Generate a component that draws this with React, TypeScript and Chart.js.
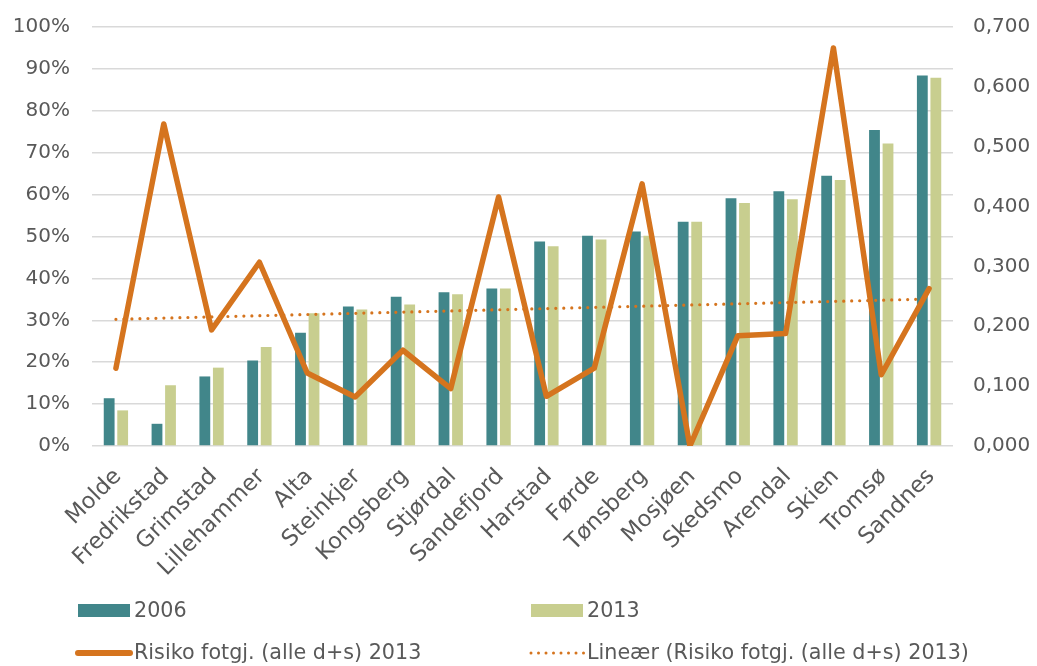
import React, { useEffect, useRef } from "react";
import { Chart, registerables } from "chart.js";

Chart.register(...registerables);

const categories = [
  "Molde", "Fredrikstad", "Grimstad", "Lillehammer", "Alta", "Steinkjer",
  "Kongsberg", "Stjørdal", "Sandefjord", "Harstad", "Førde", "Tønsberg",
  "Mosjøen", "Skedsmo", "Arendal", "Skien", "Tromsø", "Sandnes",
];

const share2006 = [
  0.114, 0.053, 0.166, 0.204, 0.270, 0.333, 0.356, 0.367, 0.376, 0.488,
  0.502, 0.512, 0.535, 0.591, 0.608, 0.645, 0.754, 0.884,
];

const share2013 = [
  0.085, 0.145, 0.187, 0.236, 0.317, 0.326, 0.338, 0.362, 0.376, 0.477,
  0.493, 0.502, 0.535, 0.580, 0.589, 0.635, 0.722, 0.879,
];

const risk2013 = [
  0.130, 0.538, 0.194, 0.307, 0.122, 0.082, 0.160, 0.096, 0.416, 0.083,
  0.130, 0.438, 0.000, 0.184, 0.188, 0.665, 0.119, 0.263,
];

const leftTicks = [0, 0.1, 0.2, 0.3, 0.4, 0.5, 0.6, 0.7, 0.8, 0.9, 1.0];
const rightTicks = [0, 0.1, 0.2, 0.3, 0.4, 0.5, 0.6, 0.7];

const legendLabels = {
  s2006: "2006",
  s2013: "2013",
  risk: "Risiko fotgj. (alle d+s) 2013",
  trend: "Lineær (Risiko fotgj. (alle d+s) 2013)",
};

const TEAL = "#41868A";
const GREEN = "#C8CE8F";
const ORANGE = "#D5741E";
const TEXT = "#595959";
const GRID = "#D9D9D9";
const FONT = "'DejaVu Sans', sans-serif";

// Linear trend (least squares) of the risk series, as Excel's trendline does
function linearTrend(values: number[]): number[] {
  const n = values.length;
  const xs = values.map((_, i) => i + 1);
  const mx = xs.reduce((a, b) => a + b, 0) / n;
  const my = values.reduce((a, b) => a + b, 0) / n;
  let sxy = 0;
  let sxx = 0;
  for (let i = 0; i < n; i++) {
    sxy += (xs[i] - mx) * (values[i] - my);
    sxx += (xs[i] - mx) * (xs[i] - mx);
  }
  const slope = sxy / sxx;
  return xs.map((x) => my + slope * (x - mx));
}

// Draws the category labels rotated 45°, their ends anchored just below each tick
const rotatedLabels = {
  id: "rotatedLabels",
  afterDraw(chart: any) {
    const xs = chart.scales.x;
    const ctx = chart.ctx;
    ctx.save();
    ctx.fillStyle = TEXT;
    ctx.font = "22.5px " + FONT;
    ctx.textAlign = "right";
    ctx.textBaseline = "middle";
    const labels = chart.data.labels as string[];
    labels.forEach((label, i) => {
      const x = xs.getPixelForTick(i);
      ctx.save();
      ctx.translate(x + 2, xs.top + 27);
      ctx.rotate(-Math.PI / 4);
      ctx.fillText(label, 0, 0);
      ctx.restore();
    });
    ctx.restore();
  },
};

export default function App() {
  const canvasRef = useRef<HTMLCanvasElement | null>(null);

  useEffect(() => {
    if (!canvasRef.current) return;
    const chart = new Chart(canvasRef.current, {
      type: "bar",
      data: {
        labels: categories,
        datasets: [
          {
            type: "line",
            label: legendLabels.trend,
            data: linearTrend(risk2013),
            yAxisID: "y1",
            borderColor: ORANGE,
            borderWidth: 3.2,
            borderDash: [0, 8],
            borderCapStyle: "round",
            pointRadius: 0,
            fill: false,
            order: 0,
          },
          {
            type: "line",
            label: legendLabels.risk,
            data: risk2013,
            yAxisID: "y1",
            borderColor: ORANGE,
            borderWidth: 5.5,
            borderJoinStyle: "round",
            borderCapStyle: "round",
            pointRadius: 0,
            tension: 0,
            fill: false,
            order: 1,
          },
          {
            type: "bar",
            label: legendLabels.s2006,
            data: share2006,
            yAxisID: "y",
            backgroundColor: TEAL,
            categoryPercentage: 0.565,
            barPercentage: 0.8,
            order: 2,
          },
          {
            type: "bar",
            label: legendLabels.s2013,
            data: share2013,
            yAxisID: "y",
            backgroundColor: GREEN,
            categoryPercentage: 0.565,
            barPercentage: 0.8,
            order: 2,
          },
        ],
      },
      options: {
        animation: false,
        responsive: false,
        maintainAspectRatio: false,
        layout: { padding: { top: 27, left: 0, right: 0, bottom: 0 } },
        plugins: {
          legend: { display: false },
          tooltip: { enabled: false },
        },
        scales: {
          x: {
            grid: { display: false, drawTicks: false },
            border: { display: false },
            ticks: { display: false, autoSkip: false },
            afterFit: (scale: any) => {
              scale.height = 220;
              scale.paddingLeft = 0;
              scale.paddingRight = 0;
            },
          },
          y: {
            position: "left",
            min: 0,
            max: 1,
            afterBuildTicks: (scale: any) => {
              scale.ticks = leftTicks.map((v) => ({ value: v }));
            },
            grid: { color: GRID, lineWidth: 1.5, drawTicks: false },
            border: { display: false },
            ticks: {
              color: TEXT,
              font: { family: FONT, size: 20 },
              padding: 22,
              callback: (v: any) => Math.round(Number(v) * 100) + "%",
            },
            afterFit: (scale: any) => {
              scale.width = 92;
              scale.paddingTop = 12;
              scale.paddingBottom = 12;
            },
          },
          y1: {
            position: "right",
            min: 0,
            max: 0.7,
            afterBuildTicks: (scale: any) => {
              scale.ticks = rightTicks.map((v) => ({ value: v }));
            },
            grid: { display: false, drawTicks: false },
            border: { display: false },
            ticks: {
              color: TEXT,
              font: { family: FONT, size: 20 },
              padding: 20,
              callback: (v: any) => Number(v).toFixed(3).replace(".", ","),
            },
            afterFit: (scale: any) => {
              scale.width = 84;
              scale.paddingTop = 12;
              scale.paddingBottom = 12;
            },
          },
        },
      },
      plugins: [rotatedLabels],
    });
    return () => chart.destroy();
  }, []);

  const textStyle: React.CSSProperties = {
    position: "absolute",
    fontFamily: FONT,
    fontSize: 20.7,
    color: TEXT,
    lineHeight: "24px",
    whiteSpace: "nowrap",
  };

  return (
    <div style={{ position: "absolute", left: 0, top: 0, width: 1037, height: 666, background: "#fff" }}>
      <canvas ref={canvasRef} width={1037} height={666} style={{ display: "block", width: 1037, height: 666 }} />
      {/* Legend */}
      <div style={{ position: "absolute", left: 78, top: 604, width: 52, height: 13, background: TEAL }} />
      <div style={{ ...textStyle, left: 134, top: 598 }}>{legendLabels.s2006}</div>
      <div style={{ position: "absolute", left: 531, top: 604, width: 52, height: 13, background: GREEN }} />
      <div style={{ ...textStyle, left: 587, top: 598 }}>{legendLabels.s2013}</div>
      <svg style={{ position: "absolute", left: 72, top: 644 }} width={64} height={18}>
        <line x1={6} y1={9} x2={58} y2={9} stroke={ORANGE} strokeWidth={6} strokeLinecap="round" />
      </svg>
      <div style={{ ...textStyle, left: 134, top: 640 }}>{legendLabels.risk}</div>
      <svg style={{ position: "absolute", left: 526, top: 644 }} width={64} height={18}>
        <line x1={5} y1={9} x2={58} y2={9} stroke={ORANGE} strokeWidth={3} strokeLinecap="round" strokeDasharray="0 7.5" />
      </svg>
      <div style={{ ...textStyle, left: 587, top: 640 }}>{legendLabels.trend}</div>
    </div>
  );
}
